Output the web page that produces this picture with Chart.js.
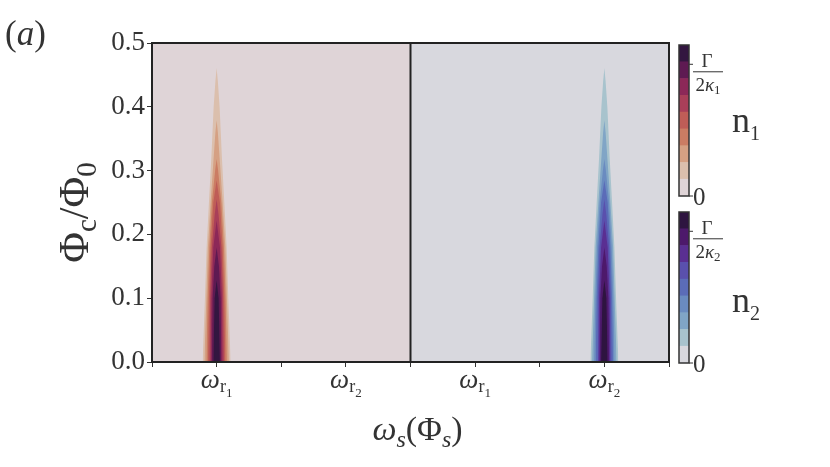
<!DOCTYPE html>
<html lang="en">
<head>
<meta charset="UTF-8">
<title>n1 / n2 vs flux</title>
<script src="https://cdn.jsdelivr.net/npm/chart.js"></script>
<style>
  body { margin: 0; background: #ffffff; }
  .quadro { position: relative; width: 830px; height: 467px; }
  canvas { position: absolute; }
</style>
</head>
<body>
<div class="quadro">
  <canvas id="mapa" width="830" height="467" style="left:0;top:0"></canvas>
  <canvas id="barra1" width="160" height="175" style="left:670px;top:35px"></canvas>
  <canvas id="barra2" width="160" height="175" style="left:670px;top:202px"></canvas>
</div>

<script>
  // x axis: two panels of 4 units each, resonances labelled at 1,3 | 5,7
  const xTickPositions = [1, 3, 5, 7];
  const xTickSubs = ['1', '2', '1', '2'];
  const panelSplit = 4;
  const xMax = 8;
  const yMax = 0.5;

  // resonance peaks (left panel at ω_r1, right panel at ω_r2)
  const spikeCenters = [1, 7];

  // contour levels, outer -> inner: heights (Φc/Φ0) and half widths (x units) at those heights
  const levelHeights = [
    [0, 0.10, 0.18, 0.25, 0.32, 0.40, 0.44, 0.461],
    [0, 0.10, 0.18, 0.25, 0.32, 0.36, 0.379],
    [0, 0.10, 0.18, 0.25, 0.30, 0.318],
    [0, 0.10, 0.18, 0.25, 0.285],
    [0, 0.10, 0.18, 0.23, 0.255],
    [0, 0.10, 0.18, 0.222],
    [0, 0.10, 0.15, 0.18],
    [0, 0.10, 0.128]
  ];
  const levelHalfWidths = [
    [0.217, 0.181, 0.155, 0.119, 0.082, 0.046, 0.019, 0],
    [0.190, 0.159, 0.135, 0.093, 0.046, 0.019, 0],
    [0.159, 0.139, 0.113, 0.073, 0.023, 0],
    [0.135, 0.119, 0.093, 0.051, 0],
    [0.113, 0.101, 0.073, 0.031, 0],
    [0.093, 0.082, 0.051, 0],
    [0.073, 0.062, 0.036, 0],
    [0.051, 0.031, 0]
  ];

  // colour bands, bottom (0) -> top (Γ/2κ)
  const n1Colors = ['#dfd4d7', '#dbbfad', '#d5a083', '#cb7c63', '#bf5d57', '#a93f59', '#8c2858', '#5e1a52', '#331640'];
  const n2Colors = ['#d8d8de', '#a8c3cd', '#80a5c6', '#6a8bc0', '#5b6cb8', '#5a50ad', '#5a2f92', '#4d196b', '#2e1440'];
  const cbarTickValue = 7.85;

  const corTexto = '#333333';
  const serif = '"Liberation Serif", "DejaVu Serif", serif';

  function drawRuns(ctx, runs, x, y, align) {
    let total = 0;
    runs.forEach(r => {
      ctx.font = r.font;
      r.w = ctx.measureText(r.text).width;
      total += r.w;
    });
    let cx = align === 'left' ? x : x - total / 2;
    runs.forEach(r => {
      ctx.font = r.font;
      ctx.fillText(r.text, cx, y + (r.dy || 0));
      cx += r.w;
    });
  }

  function spikeDataset(center, lvl, color) {
    const hs = levelHeights[lvl];
    const hw = levelHalfWidths[lvl];
    const pts = [];
    for (let i = 0; i < hs.length; i++) {
      pts.push({ x: center - hw[i], y: hs[i] });
    }
    for (let i = hs.length - 2; i >= 0; i--) {
      pts.push({ x: center + hw[i], y: hs[i] });
    }
    return {
      data: pts, fill: 'origin', backgroundColor: color,
      borderWidth: 0, pointRadius: 0, order: 50 - lvl
    };
  }

  const datasets = [
    {
      data: [{ x: 0, y: yMax }, { x: panelSplit, y: yMax }], fill: 'origin',
      backgroundColor: n1Colors[0], borderWidth: 0, pointRadius: 0, order: 100
    },
    {
      data: [{ x: panelSplit, y: yMax }, { x: xMax, y: yMax }], fill: 'origin',
      backgroundColor: n2Colors[0], borderWidth: 0, pointRadius: 0, order: 100
    },
    {
      data: [{ x: panelSplit, y: 0 }, { x: panelSplit, y: yMax }], fill: false,
      borderColor: '#222222', borderWidth: 2, pointRadius: 0, order: 0
    }
  ];
  levelHeights.forEach((h, lvl) => {
    datasets.push(spikeDataset(spikeCenters[0], lvl, n1Colors[lvl + 1]));
    datasets.push(spikeDataset(spikeCenters[1], lvl, n2Colors[lvl + 1]));
  });

  const rotulos = {
    id: 'rotulos',
    afterDraw(chart) {
      const { ctx, chartArea: a, scales: { x } } = chart;
      ctx.save();
      ctx.strokeStyle = '#222222';
      ctx.lineWidth = 2;
      ctx.strokeRect(a.left, a.top, a.right - a.left, a.bottom - a.top);

      ctx.fillStyle = corTexto;
      ctx.textBaseline = 'alphabetic';
      ctx.textAlign = 'left';

      xTickPositions.forEach((v, i) => {
        drawRuns(ctx, [
          { text: 'ω', font: `italic 27px ${serif}` },
          { text: 'r', font: `18px ${serif}`, dy: 4 },
          { text: xTickSubs[i], font: `13px ${serif}`, dy: 9 }
        ], x.getPixelForValue(v), a.bottom + 26);
      });

      drawRuns(ctx, [
        { text: 'ω', font: `italic 34px ${serif}` },
        { text: 's', font: `italic 24px ${serif}`, dy: 7 },
        { text: '(', font: `34px ${serif}` },
        { text: 'Φ', font: `34px ${serif}` },
        { text: 's', font: `italic 24px ${serif}`, dy: 7 },
        { text: ')', font: `34px ${serif}` }
      ], (a.left + a.right) / 2 + 7, a.bottom + 78);

      drawRuns(ctx, [
        { text: '(', font: `35px ${serif}` },
        { text: 'a', font: `italic 35px ${serif}` },
        { text: ')', font: `35px ${serif}` }
      ], 5, 45, 'left');

      ctx.translate(88, (a.top + a.bottom) / 2 + 10);
      ctx.rotate(-Math.PI / 2);
      drawRuns(ctx, [
        { text: 'Φ', font: `42px ${serif}` },
        { text: 'c', font: `29px ${serif}`, dy: 8 },
        { text: '/', font: `42px ${serif}` },
        { text: 'Φ', font: `42px ${serif}` },
        { text: '0', font: `29px ${serif}`, dy: 8 }
      ], 0, 0);
      ctx.restore();
    }
  };

  new Chart(document.getElementById('mapa'), {
    type: 'line',
    data: { datasets: datasets },
    options: {
      responsive: false,
      animation: false,
      layout: { padding: { left: 0, top: 43, right: 161, bottom: 0 } },
      plugins: { legend: { display: false }, tooltip: { enabled: false } },
      scales: {
        x: {
          type: 'linear', min: 0, max: xMax,
          ticks: { stepSize: 1, callback: () => '' },
          grid: { drawOnChartArea: false, tickLength: 5, color: '#333333' },
          border: { display: true, color: '#222222', width: 2 },
          afterFit: (s) => { s.height = 105; }
        },
        y: {
          min: 0, max: yMax,
          ticks: {
            stepSize: 0.1, padding: 2, color: corTexto,
            font: { family: 'Liberation Serif', size: 27 },
            callback: (v) => v.toFixed(1)
          },
          grid: { drawOnChartArea: false, tickLength: 5, color: '#333333' },
          border: { display: true, color: '#222222', width: 2 },
          afterFit: (s) => { s.width = 152; }
        }
      }
    },
    plugins: [rotulos]
  });

  function cbarPlugin(sub, nBaseline) {
    return {
      id: 'cbar' + sub,
      afterDraw(chart) {
        const { ctx, chartArea: a, scales: { y } } = chart;
        ctx.save();
        ctx.strokeStyle = '#333333';
        ctx.lineWidth = 1.5;
        ctx.strokeRect(a.left, a.top, a.right - a.left, a.bottom - a.top);

        const y0 = y.getPixelForValue(0);
        const yt = y.getPixelForValue(cbarTickValue);
        ctx.lineWidth = 1;
        ctx.beginPath();
        ctx.moveTo(a.right, y0); ctx.lineTo(a.right + 4, y0);
        ctx.moveTo(a.right, yt); ctx.lineTo(a.right + 4, yt);
        ctx.stroke();

        ctx.fillStyle = corTexto;
        ctx.textAlign = 'left';
        ctx.textBaseline = 'alphabetic';
        drawRuns(ctx, [{ text: '0', font: `25px ${serif}` }], a.right + 4, y0 + 9, 'left');

        const cx = a.right + 19;
        drawRuns(ctx, [{ text: 'Γ', font: `19px ${serif}` }], cx - 1, yt + 3);
        ctx.beginPath();
        ctx.moveTo(cx - 15, yt + 7.5); ctx.lineTo(cx + 15, yt + 7.5);
        ctx.stroke();
        drawRuns(ctx, [
          { text: '2', font: `19px ${serif}` },
          { text: 'κ', font: `italic 19px ${serif}` },
          { text: sub, font: `13px ${serif}`, dy: 3 }
        ], cx, yt + 27);

        drawRuns(ctx, [
          { text: 'n', font: `36px ${serif}` },
          { text: sub, font: `20px ${serif}`, dy: 8 }
        ], 62, nBaseline, 'left');
        ctx.restore();
      }
    };
  }

  function colorbar(id, colors, sub, nBaseline) {
    new Chart(document.getElementById(id), {
      type: 'bar',
      data: {
        labels: [''],
        datasets: colors.map(c => ({
          data: [1], backgroundColor: c, borderWidth: 0,
          barPercentage: 1, categoryPercentage: 1
        }))
      },
      options: {
        responsive: false,
        animation: false,
        layout: { padding: { left: 9, right: 141, top: 10, bottom: 14 } },
        plugins: { legend: { display: false }, tooltip: { enabled: false } },
        scales: {
          x: { stacked: true, display: false },
          y: { stacked: true, display: false, min: 0, max: colors.length }
        }
      },
      plugins: [cbarPlugin(sub, nBaseline)]
    });
  }

  colorbar('barra1', n1Colors, '1', 97);
  colorbar('barra2', n2Colors, '2', 110);
</script>
</body>
</html>
